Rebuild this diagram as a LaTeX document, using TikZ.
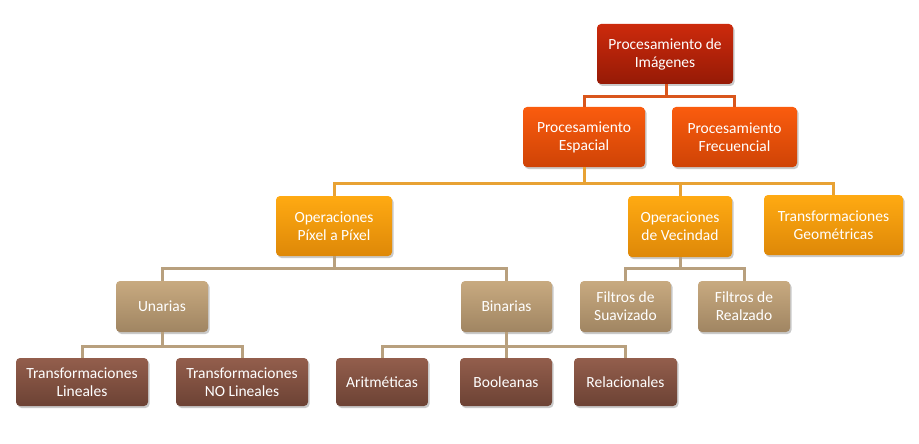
\documentclass[tikz,border=0pt]{standalone}
\usepackage{fontspec}
\setmainfont{Carlito}
\usetikzlibrary{shadows}
\definecolor{c0t}{HTML}{CC2A0C}\definecolor{c0b}{HTML}{961A06}
\definecolor{c1t}{HTML}{FA5C0E}\definecolor{c1b}{HTML}{CF4306}
\definecolor{c2t}{HTML}{FFAA12}\definecolor{c2b}{HTML}{DE8808}
\definecolor{c3t}{HTML}{C8AA80}\definecolor{c3b}{HTML}{A08562}
\definecolor{c4t}{HTML}{935E4C}\definecolor{c4b}{HTML}{6C4234}
\definecolor{l1}{HTML}{D9561C}\definecolor{l2}{HTML}{E8A234}
\definecolor{l3}{HTML}{B8A07E}
\tikzset{
  box/.style={rectangle, rounded corners=4pt, align=center, text=white,
    font=\fontsize{15.5}{18}\selectfont, inner sep=0pt,
    drop shadow={shadow xshift=1.5pt, shadow yshift=-2pt, opacity=0.35, fill=black!60}},
  lv0/.style={box, top color=c0t, bottom color=c0b},
  lv1/.style={box, top color=c1t, bottom color=c1b},
  lv2/.style={box, top color=c2t, bottom color=c2b},
  lv3/.style={box, top color=c3t, bottom color=c3b},
  lv4/.style={box, top color=c4t, bottom color=c4b},
  w1/.style={draw=l1, line width=3pt},
  w2/.style={draw=l2, line width=3pt},
  w3/.style={draw=l3, line width=3pt},
}
\begin{document}
\begin{tikzpicture}[x=1pt,y=-1pt]
\useasboundingbox (0,0) rectangle (919,444);
\coordinate (j1) at (666,97);
\coordinate (j2) at (584,183);
\coordinate (j3) at (334,268);
\coordinate (j4) at (680,268);
\coordinate (j5) at (162,346);
\coordinate (j6) at (506,346);
% nodes
\node[lv0, minimum width=136pt, minimum height=60pt] (root) at (665,54) {Procesamiento de\\Imágenes};
\node[lv1, minimum width=122pt, minimum height=60pt] (esp) at (584,137) {Procesamiento\\Espacial};
\node[lv1, minimum width=125pt, minimum height=60pt] (frec) at (734.5,137) {Procesamiento\\Frecuencial};
\node[lv2, minimum width=116pt, minimum height=60pt] (pix) at (334,226) {Operaciones\\Píxel a Píxel};
\node[lv2, minimum width=104pt, minimum height=61pt] (vec) at (680,226.5) {Operaciones\\de Vecindad};
\node[lv2, minimum width=139pt, minimum height=60pt] (geo) at (833.5,225) {Transformaciones\\Geométricas};
\node[lv3, minimum width=92pt, minimum height=51pt] (una) at (162,306.5) {Unarias};
\node[lv3, minimum width=91pt, minimum height=51pt] (bin) at (506.5,306.5) {Binarias};
\node[lv3, minimum width=91pt, minimum height=51pt] (suav) at (625.5,306.5) {Filtros de\\Suavizado};
\node[lv3, minimum width=92pt, minimum height=51pt] (realz) at (744,306.5) {Filtros de\\Realzado};
\node[lv4, minimum width=132pt, minimum height=48pt] (tlin) at (82,382) {Transformaciones\\Lineales};
\node[lv4, minimum width=132pt, minimum height=48pt] (tnol) at (242,382) {Transformaciones\\NO Lineales};
\node[lv4, minimum width=92pt, minimum height=48pt] (arit) at (382,382) {Aritméticas};
\node[lv4, minimum width=92pt, minimum height=48pt] (bool) at (506,382) {Booleanas};
\node[lv4, minimum width=103pt, minimum height=48pt] (rel) at (625.5,382) {Relacionales};
% connectors
\draw[w1] (root.south -| j1) -- (j1) -| (esp.north);
\draw[w1] (j1) -| (frec.north);
\draw[w2] (esp.south) -- (j2) -| (pix.north);
\draw[w2] (j2) -| (vec.north);
\draw[w2] (j2) -| (geo.north);
\draw[w3] (pix.south) -- (j3) -| (una.north);
\draw[w3] (j3) -| (bin.north);
\draw[w3] (vec.south) -- (j4) -| (suav.north);
\draw[w3] (j4) -| (realz.north);
\draw[w3] (una.south) -- (j5) -| (tlin.north);
\draw[w3] (j5) -| (tnol.north);
\draw[w3] (bin.south -| j6) -- (j6) -| (arit.north);
\draw[w3] (j6) -- (bool.north);
\draw[w3] (j6) -| (rel.north);
\end{tikzpicture}
\end{document}
